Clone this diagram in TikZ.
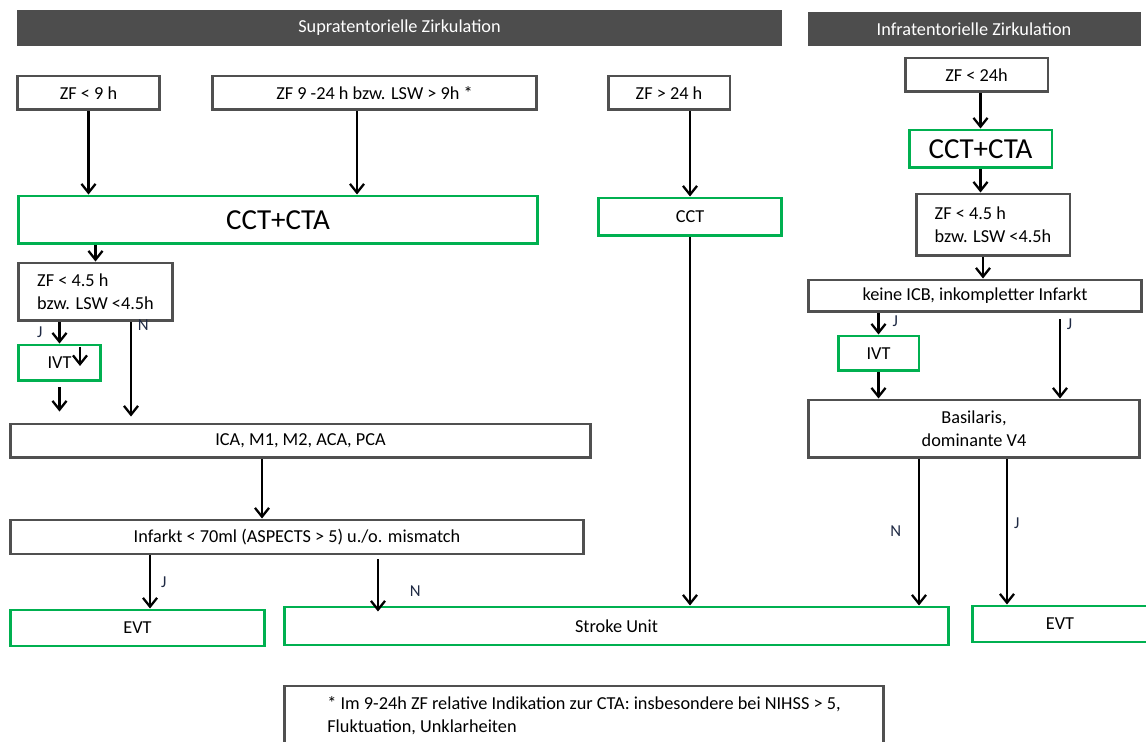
\documentclass[tikz,border=0pt]{standalone}
\usepackage{fontspec}
\setmainfont{Carlito}
\usetikzlibrary{arrows.meta}
\definecolor{boxgray}{RGB}{80,80,80}
\definecolor{headgray}{RGB}{77,77,77}
\definecolor{boxgreen}{RGB}{0,176,80}
\definecolor{labelblue}{RGB}{31,42,68}

\begin{document}
\begin{tikzpicture}[
                        ->,
                        >={Straight Barb[length=5pt,width=8pt]},
                        x=0.02cm, y=-0.02cm,
                        line width=1.3pt,
                        font=\fontsize{10.4}{13}\selectfont
                    ]
                    \tikzstyle{head}=[rectangle,fill=headgray,draw=headgray,text=white,line width=0.6pt]
                    \tikzstyle{graybox}=[rectangle,draw=boxgray,line width=1.7pt,fill=white]
                    \tikzstyle{greenbox}=[rectangle,draw=boxgreen,line width=1.7pt,fill=white]
                    \tikzstyle{big}=[font=\fontsize{16.5}{20}\selectfont]
                    \tikzstyle{yn}=[font=\fontsize{9.5}{11}\selectfont,text=labelblue]

                    \useasboundingbox (0,0) rectangle (1146,742);

                    % headers
                    \node[head,minimum width=15.3cm,minimum height=0.68cm] (hsup) at (399.5,28)   {Supratentorielle Zirkulation};
                    \node[head,minimum width=6.64cm,minimum height=0.66cm] (hinf) at (974,29)     {Infratentorielle Zirkulation};

                    % supratentoriell
                    \node[graybox,minimum width=2.86cm,minimum height=0.68cm]  (zf9)   at (88.5,93)   {ZF < 9 h};
                    \node[graybox,minimum width=6.5cm,minimum height=0.68cm]   (zf924) at (374.5,93)  {ZF 9 -24 h bzw. LSW > 9h *};
                    \node[graybox,minimum width=2.44cm,minimum height=0.68cm]  (zf24)  at (669,93)    {ZF > 24 h};
                    \node[greenbox,big,minimum width=10.4cm,minimum height=0.96cm] (ccta) at (278,220) {CCT+CTA};
                    \node[greenbox,minimum width=3.68cm,minimum height=0.76cm] (cct)   at (690,217)   {CCT};
                    \node[graybox,align=left,minimum width=3.1cm,minimum height=1.16cm] (zf45) at (95.5,292) {ZF < 4.5 h\\bzw. LSW <4.5h};
                    \node[greenbox,minimum width=1.66cm,minimum height=0.72cm] (ivt)   at (59.5,363)  {IVT};
                    \node[graybox,minimum width=11.62cm,minimum height=0.68cm] (ica)   at (300.5,441) {ICA, M1, M2, ACA, PCA};
                    \node[graybox,minimum width=11.48cm,minimum height=0.68cm] (inf)   at (297,537)   {Infarkt < 70ml (ASPECTS > 5) u./o. mismatch};
                    \node[greenbox,minimum width=5.1cm,minimum height=0.72cm]  (evt)   at (137.5,628) {EVT};
                    \node[greenbox,minimum width=13.3cm,minimum height=0.76cm] (su)    at (616.5,626) {Stroke Unit};

                    % infratentoriell
                    \node[graybox,minimum width=2.86cm,minimum height=0.68cm]  (zfinf)   at (976.5,75)  {ZF < 24h};
                    \node[greenbox,big,minimum width=2.86cm,minimum height=0.76cm] (cctainf) at (980.5,149) {CCT+CTA};
                    \node[graybox,align=left,minimum width=3.08cm,minimum height=1.24cm] (zf45inf) at (993,225) {ZF < 4.5 h\\bzw. LSW <4.5h};
                    \node[graybox,minimum width=6.68cm,minimum height=0.64cm]  (icb)     at (975,296)   {keine ICB, inkompletter Infarkt};
                    \node[greenbox,minimum width=1.62cm,minimum height=0.7cm]  (ivtinf)  at (878.5,353.5) {IVT};
                    \node[graybox,align=center,minimum width=6.64cm,minimum height=1.16cm] (basil) at (974,429) {Basilaris,\\dominante V4};
                    \node[greenbox,minimum width=3.52cm,minimum height=0.72cm] (evtinf)  at (1060,624)  {EVT};

                    % footnote
                    \node[graybox,minimum width=12cm,minimum height=1.2cm,align=left] (foot) at (584,716)
                        {* Im 9-24h ZF relative Indikation zur CTA: insbesondere bei NIHSS > 5,\\Fluktuation, Unklarheiten};

                    \coordinate (ivtmarka) at (80,347);
                    \coordinate (ivtmarkb) at (80,366);

                    % connectors supratentoriell
                    \draw (zf9.south) -- (zf9.south |- ccta.north);
                    \draw ([xshift=-0.35cm]zf924.south) -- ([xshift=-0.35cm]zf924.south |- ccta.north);
                    \draw (zf24.south -| cct.north) -- (cct.north);
                    \draw (cct.south) -- (cct.south |- su.north);
                    \draw (ccta.south -| zf45.north) -- (zf45.north);
                    \draw (zf45.south -| ivt.north) -- node[yn,left,pos=0.45,xshift=-0.2cm] {J} (ivt.north);
                    \draw (ivtmarka) -- (ivtmarkb);
                    \draw ([yshift=-0.1cm]ivt.south) -- ([yshift=0.22cm]ivt.south |- ica.north);
                    \draw ([xshift=0.71cm]zf45.south) -- node[yn,right,pos=0.03] {N} ([xshift=0.71cm,yshift=0.12cm]zf45.south |- ica.north);
                    \draw ([xshift=-0.77cm]ica.south) -- ([xshift=-0.77cm]ica.south |- inf.north);
                    \draw ([xshift=-2.94cm]inf.south) -- node[yn,right,pos=0.5,xshift=0.08cm] {J} ([xshift=-2.94cm]inf.south |- evt.north);
                    \draw ([xshift=1.62cm,yshift=-0.08cm]inf.south) -- node[yn,right,pos=0.6,xshift=0.5cm] {N} ([xshift=1.62cm,yshift=-0.12cm]inf.south |- su.north);

                    % connectors infratentoriell
                    \draw (zfinf.south -| cctainf.north) -- (cctainf.north);
                    \draw (cctainf.south) -- (cctainf.south |- zf45inf.north);
                    \draw ([xshift=-0.2cm]zf45inf.south) -- ([xshift=-0.2cm]zf45inf.south |- icb.north);
                    \draw (icb.south -| ivtinf.north) -- node[yn,right,pos=0.35,xshift=0.14cm] {J} (ivtinf.north);
                    \draw ([xshift=1.7cm,yshift=-0.12cm]icb.south) -- node[yn,right,pos=0.06] {J} ([xshift=1.7cm]icb.south |- basil.north);
                    \draw (ivtinf.south) -- (ivtinf.south |- basil.north);
                    \draw ([xshift=-1.1cm]basil.south) -- node[yn,left,pos=0.49,xshift=-0.22cm] {N} ([xshift=-1.1cm]basil.south |- su.north);
                    \draw ([xshift=0.66cm]basil.south) -- node[yn,right,pos=0.44] {J} ([xshift=0.66cm]basil.south |- evtinf.north);

                \end{tikzpicture}
\end{document}
